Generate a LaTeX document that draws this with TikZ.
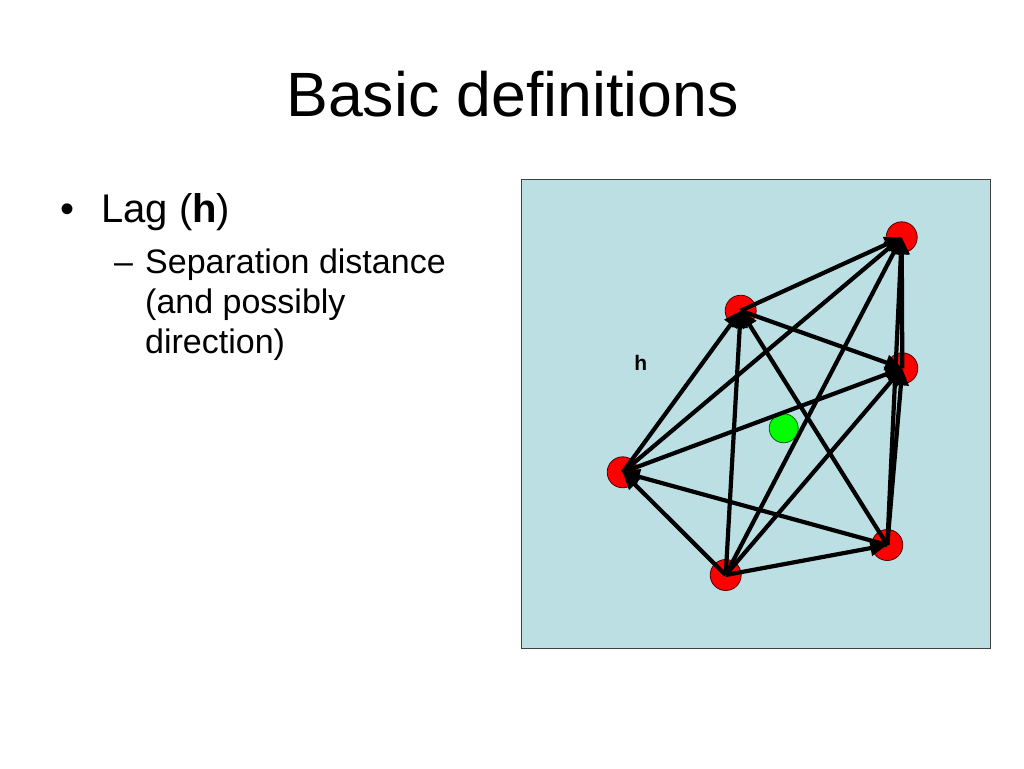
\documentclass[tikz,border=0pt]{standalone}
\usepackage{fontspec}
\setmainfont{Liberation Sans}
\usetikzlibrary{arrows.meta}

\begin{document}
\begin{tikzpicture}[x=1pt,y=-1pt,
  redpt/.style={circle,fill=red,draw=black!70!red,line width=0.8pt,minimum size=31,inner sep=0},
  greenpt/.style={circle,fill=green,draw=black!60!green,line width=0.8pt,minimum size=29,inner sep=0},
  lagarrow/.style={line width=4.2pt,-{Triangle[length=17pt,width=15pt]}}]
\definecolor{panel}{HTML}{BBDFE3}
\useasboundingbox (0,0) rectangle (1024,768);
\node[anchor=base,font=\fontsize{62.6}{75}\selectfont] (title) at (512.5,116.7) {Basic definitions};
\node[anchor=base west,font=\fontsize{40}{48}\selectfont] (bullet) at (57,222.7) {\textbullet};
\node[anchor=base west,inner sep=0,font=\fontsize{40}{48}\selectfont] (lag) at (101,222.7) {Lag (\textbf{h})};
\node[anchor=base west,inner sep=0,font=\fontsize{34}{40}\selectfont] (dash) at (114,273.3) {--};
  \foreach \txt/\y [count=\i] in {{Separation distance}/273.3,{(and possibly}/313.3,{direction)}/353.3}
  {  \node[anchor=base west,inner sep=0,font=\fontsize{34}{40}\selectfont] (sep\i) at (145,\y) {\txt};}
\node[draw=black!75,line width=1pt,fill=panel,anchor=north west,minimum width=469.5,minimum height=469,inner sep=0] (box) at (520.5,179) {};
\node[font=\fontsize{21}{25}\selectfont\bfseries] (hlabel) at (640.7,363.3) {h};
\node[greenpt] (mid) at (783.7,428.3) {};
  \foreach \name/\pos in {A/{(901.7,237.3)},B/{(740.7,310.7)},C/{(902.3,368.3)},D/{(622.7,472.3)},E/{(887.3,545)},F/{(725.7,575)}}
  {  \node[redpt] (\name) at \pos {};}
  \foreach \from/\to in {F/A,F/B,F/C,F/D,F/E,E/A,E/B,E/C,E/D,D/A,D/B,D/C,B/A,B/C,C/A}
  {  \draw[lagarrow] (\from.center) -- (\to.center);}
\end{tikzpicture}
\end{document}
